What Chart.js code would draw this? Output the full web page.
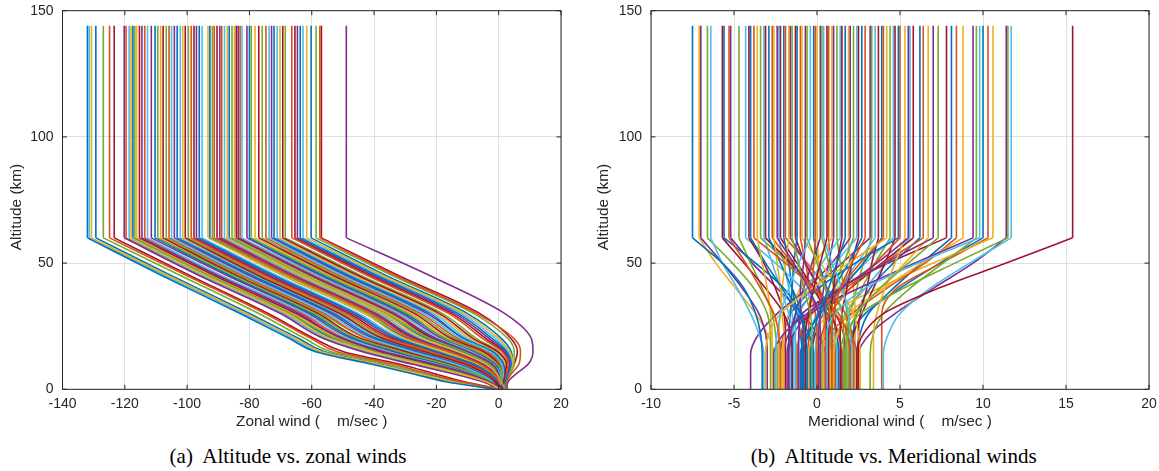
<!DOCTYPE html>
<html><head><meta charset="utf-8">
<script src="https://cdn.jsdelivr.net/npm/chart.js@4.4.1/dist/chart.umd.min.js"></script>
<style>
html,body{margin:0;padding:0;background:#fff}
#page{position:relative;width:1159px;height:471px;overflow:hidden;background:#fff}
canvas{position:absolute;top:0}
.cap{position:absolute;top:445.7px;width:420px;text-align:center;font:21px/21px "Liberation Serif","Times New Roman",serif;color:#000;white-space:pre}
</style></head>
<body><div id="page">
<canvas id="zonal" width="580" height="440" style="left:0"></canvas>
<canvas id="merid" width="579" height="440" style="left:580px"></canvas>
<div class="cap" style="left:78px">(a)  Altitude vs. zonal winds</div>
<div class="cap" style="left:683.7px">(b)  Altitude vs. Meridional winds</div>
</div>
<script>
// ---------------- data ----------------
const altitudeTicks = [0, 50, 100, 150];
const zonalTicks = [-140, -120, -100, -80, -60, -40, -20, 0, 20];
const meridionalTicks = [-10, -5, 0, 5, 10, 15, 20];
const kneeAltitude = 60;      // km, wind is constant above this level
const topAltitude = 144;      // km, top of every profile

// altitude levels (km) at which each zonal profile is read
const zonalAltitudes = [0, 3, 6, 10, 15, 20, 30, 45, 60];
// zonal wind (m/s) at those levels, one row per profile
const zonalProfiles = [
  [-1, -17, -27, -41, -59, -67, -83, -108, -132.0],
  [-0.5, -16, -26, -40, -58, -66, -82, -107, -131.4],
  [0, -15, -25, -39, -57, -65, -81, -106, -130.7],
  [-1, -15, -25, -38, -56, -64, -80, -105, -129.3],
  [0.5, -13, -23, -36, -54, -62, -77, -102, -126.9],
  [0, -12, -22, -34, -52, -60, -75, -100, -124.9],
  [1, -11, -20, -32, -50, -59, -74, -99, -123.4],
  [1, -5, -14, -28, -44, -56, -70, -96, -120.2],
  [0, -5, -13, -27, -43, -55, -69, -95, -119.6],
  [2, -4, -12, -26, -42, -55, -69, -95, -118.6],
  [0.5, -4, -12, -25, -41, -54, -68, -94, -118.0],
  [-0.5, -4, -11, -24, -40, -53, -67, -93, -117.4],
  [1, -3.5, -11, -24, -40, -52, -67, -93, -116.8],
  [2, -3.5, -10, -23, -39, -51, -66, -92, -116.2],
  [0, -3, -10, -22, -38, -50, -65, -91, -115.3],
  [1.5, -3, -9, -21, -37, -50, -64, -90, -114.5],
  [0.5, -3, -9, -20, -36, -49, -63, -89, -113.6],
  [-0.5, -3, -8.5, -20, -36, -48, -62, -89, -112.7],
  [1, -2.5, -8, -19, -34, -47, -61, -87, -111.5],
  [2, -2.5, -7.5, -18, -33, -46, -60, -86, -110.3],
  [0, -2.5, -7, -17, -32, -45, -59, -85, -109.4],
  [1, -2, -7, -16, -31, -44, -58, -84, -108.5],
  [2.5, -2, -6.5, -16, -30, -44, -58, -84, -107.7],
  [0, -2, -6.5, -15, -29, -42, -57, -83, -106.7],
  [1, -2, -6, -15, -28, -42, -56, -82, -105.8],
  [-0.5, -2, -6, -14, -28, -41, -55, -81, -105.0],
  [1.5, -1.5, -5.5, -13, -27, -40, -54, -80, -104.1],
  [0.5, -1.5, -5, -13, -26, -39, -53, -79, -103.2],
  [2, -1.5, -5, -12, -25, -38, -52, -78, -102.2],
  [0, -1, -4.5, -12, -24, -37, -51, -77, -101.4],
  [1, -1, -4, -11, -24, -37, -51, -77, -100.6],
  [2, -1, -4, -10, -23, -36, -50, -76, -99.6],
  [0.5, -1, -3.5, -10, -22, -35, -49, -75, -98.7],
  [1.5, -0.5, -3, -9, -21, -34, -48, -74, -97.8],
  [-0.5, -0.5, -3, -9, -21, -33, -47, -73, -97.0],
  [1, -0.5, -2.5, -8, -20, -32, -46, -72, -96.1],
  [2, 0, -2.5, -7.5, -19, -31, -45, -71, -95.2],
  [0, 0, -2, -7, -18, -30, -43, -69, -93.3],
  [1, 0, -2, -6.5, -17, -29, -43, -69, -92.7],
  [2.5, 0, -2, -6, -17, -28, -42, -68, -91.9],
  [0.5, 0, -1.5, -6, -16, -28, -41, -67, -91.3],
  [1.5, 0, -1.5, -5, -15, -27, -40, -66, -90.4],
  [-0.5, 0.5, -1, -5, -15, -26, -40, -66, -89.5],
  [1, 0.5, -1, -4.5, -14, -26, -39, -65, -88.9],
  [2, 0.5, -1, -4, -13, -25, -38, -64, -88.0],
  [0, 0.5, -0.5, -4, -13, -24, -37, -63, -87.1],
  [1, 0.5, -0.5, -3.5, -12, -23, -37, -63, -86.5],
  [2.5, 0.5, 0, -3, -11, -22, -36, -62, -85.6],
  [0.5, 0.5, 0, -3, -11, -22, -35, -61, -84.8],
  [1.5, 0.5, 0, -2.5, -10, -21, -34, -60, -84.2],
  [-0.5, 0.5, 0, -2, -10, -20, -34, -60, -83.6],
  [1, 1, 0.5, -2, -9, -20, -33, -59, -83.0],
  [2, 1, 0.5, -2, -9, -19, -32, -58, -82.4],
  [0, 1, 0.5, -1, -8, -18, -31, -57, -80.8],
  [1, 1, 0.5, -1, -7, -17, -30, -56, -80.0],
  [2.5, 1, 1, -0.5, -7, -17, -29, -55, -79.4],
  [0.5, 1, 1, 0, -6, -16, -28, -54, -78.2],
  [1.5, 1, 1, 0, -5, -15, -27, -53, -77.0],
  [-0.5, 1, 1.5, 0.5, -4.5, -14, -26, -52, -75.9],
  [1, 1, 1.5, 1, -4, -13, -25, -51, -74.7],
  [2, 1, 1.5, 1, -3, -12, -24, -50, -73.7],
  [0, 1, 1.5, 1.5, -3, -11, -23, -49, -72.9],
  [1.5, 1.5, 2, 1.5, -2, -11, -22, -48, -72.1],
  [2.5, 1.5, 2, 2, -1.5, -10, -21, -47, -71.1],
  [0.5, 1.5, 2, 2, -1, -9, -20, -46, -70.2],
  [1, 1.5, 2, 2.5, -0.5, -8, -19, -45, -69.3],
  [2, 1.5, 2, 2.5, 0, -7, -18, -44, -68.5],
  [0, 1.5, 2.5, 3, 1, -5, -16, -42, -66.4],
  [1.5, 1.5, 2.5, 3.5, 1.5, -4, -15, -41, -65.4],
  [2.5, 1.5, 2.5, 3.5, 2, -3, -14, -40, -64.6],
  [1, 2, 3, 4, 2.5, -2, -13, -39, -63.7],
  [0, 2, 3, 4, 3, -1, -12, -38, -62.8],
  [2, 2, 3, 4.5, 3.5, 0, -11, -37, -61.6],
  [1, 2, 3, 4.5, 4, 1, -10, -36, -60.2],
  [3, 2, 3.5, 5, 5, 3, -8, -34, -58.6],
  [2, 2.5, 4, 6.5, 7, 5, -7, -33, -57.4],
  [0.5, 2, 3.5, 5, 6, 4, -6, -32, -56.9],
  [2.5, 3, 5.5, 9.5, 11, 10.5, 2, -22, -48.9]
];

// altitude levels (km) at which each meridional profile is read
const meridionalAltitudes = [0, 14, 22, 30, 40, 50, 60];
// meridional wind (m/s) at those levels, one row per profile
const meridionalProfiles = [
  [-3.3, -3.3, -3.4, -3.7, -4.4, -5.7, -7.5],
  [-2.6, -2.6, -3.0, -3.7, -4.9, -6.1, -7.1],
  [-3.0, -3.0, -3.1, -3.5, -4.5, -5.7, -7.0],
  [-2.8, -2.8, -2.8, -3.0, -3.8, -5.1, -6.6],
  [-3.2, -3.2, -3.5, -4.0, -4.8, -5.7, -6.4],
  [-1.5, -1.5, -1.6, -2.0, -3.1, -4.4, -5.7],
  [-0.8, -0.8, -0.8, -1.0, -2.0, -3.7, -5.6],
  [-2.2, -2.2, -2.3, -2.6, -3.4, -4.3, -5.3],
  [0.5, 0.5, 0.0, -0.9, -2.4, -3.9, -5.2],
  [-2.4, -2.4, -2.5, -2.7, -3.3, -4.0, -4.7],
  [1.2, 1.2, 1.0, 0.5, -0.9, -2.5, -4.3],
  [-1.9, -1.9, -1.9, -2.0, -2.5, -3.2, -4.1],
  [-0.2, -0.2, -0.5, -1.2, -2.1, -3.1, -4.0],
  [2.0, 2.0, 1.8, 1.3, -0.2, -1.9, -3.8],
  [-2.7, -2.7, -2.7, -2.8, -3.0, -3.3, -3.6],
  [0.8, 0.8, 0.8, 0.6, -0.3, -1.7, -3.4],
  [-1.2, -1.2, -1.4, -1.7, -2.2, -2.7, -3.2],
  [1.7, 1.7, 1.6, 1.1, -0.1, -1.6, -3.1],
  [-0.6, -0.6, -0.7, -0.9, -1.5, -2.2, -2.9],
  [2.4, 2.4, 2.0, 1.1, -0.2, -1.5, -2.7],
  [-2.0, -2.0, -2.0, -2.1, -2.2, -2.4, -2.6],
  [0.2, 0.2, 0.2, 0.1, -0.5, -1.4, -2.4],
  [-1.4, -1.4, -1.4, -1.5, -1.7, -2.0, -2.3],
  [1.0, 1.0, 0.9, 0.6, -0.2, -1.2, -2.2],
  [-0.9, -0.9, -1.0, -1.2, -1.5, -1.7, -2.0],
  [2.2, 2.2, 2.1, 1.7, 0.6, -0.6, -1.9],
  [-2.3, -2.3, -2.3, -2.2, -2.1, -1.9, -1.7],
  [0.6, 0.6, 0.6, 0.5, 0.1, -0.7, -1.6],
  [-0.3, -0.3, -0.3, -0.4, -0.8, -1.1, -1.5],
  [1.5, 1.5, 1.3, 0.8, 0.1, -0.7, -1.3],
  [-1.7, -1.7, -1.7, -1.6, -1.5, -1.4, -1.2],
  [0.0, 0.0, 0.0, -0.1, -0.4, -0.7, -1.0],
  [2.6, 2.6, 2.5, 2.2, 1.3, 0.2, -0.9],
  [-1.1, -1.1, -1.1, -1.0, -1.0, -0.8, -0.7],
  [0.9, 0.9, 0.9, 0.8, 0.5, 0.0, -0.6],
  [-2.5, -2.5, -2.4, -2.2, -1.7, -1.1, -0.4],
  [1.3, 1.3, 1.2, 0.9, 0.6, 0.1, -0.2],
  [-0.5, -0.5, -0.5, -0.5, -0.3, -0.2, -0.1],
  [0.4, 0.4, 0.4, 0.4, 0.2, 0.1, 0.0],
  [-1.8, -1.8, -1.6, -1.3, -0.8, -0.3, 0.2],
  [1.6, 1.6, 1.6, 1.5, 1.1, 0.7, 0.3],
  [2.1, 2.1, 2.0, 1.9, 1.5, 0.9, 0.4],
  [-0.7, -0.7, -0.7, -0.5, -0.2, 0.2, 0.6],
  [1.1, 1.1, 1.1, 1.1, 1.0, 0.8, 0.7],
  [-2.1, -2.1, -2.0, -1.7, -1.0, -0.1, 0.9],
  [0.1, 0.1, 0.1, 0.2, 0.4, 0.7, 1.0],
  [1.9, 1.9, 1.9, 1.8, 1.6, 1.4, 1.2],
  [-1.3, -1.3, -1.3, -1.2, -0.6, 0.3, 1.4],
  [0.7, 0.7, 0.7, 0.8, 1.0, 1.2, 1.5],
  [-0.4, -0.4, -0.2, 0.1, 0.7, 1.2, 1.7],
  [2.3, 2.3, 2.3, 2.3, 2.2, 2.0, 1.9],
  [-4.0, -4.0, -3.5, -2.4, -0.6, 0.9, 2.0],
  [0.3, 0.3, 0.4, 0.5, 1.0, 1.6, 2.2],
  [-1.6, -1.6, -1.5, -1.1, -0.1, 1.1, 2.4],
  [1.4, 1.4, 1.4, 1.5, 1.8, 2.1, 2.5],
  [-0.8, -0.8, -0.5, 0.1, 1.0, 1.9, 2.7],
  [0.9, 0.9, 0.9, 1.0, 1.4, 2.1, 2.9],
  [-2.2, -2.2, -2.0, -1.6, -0.2, 1.5, 3.2],
  [1.8, 1.8, 1.8, 2.0, 2.4, 2.8, 3.3],
  [-0.1, -0.1, 0.0, 0.3, 1.3, 2.4, 3.5],
  [2.5, 2.5, 2.5, 2.6, 3.0, 3.3, 3.7],
  [-1.0, -1.0, -0.6, 0.2, 1.5, 2.8, 3.9],
  [0.5, 0.5, 0.5, 0.7, 1.4, 2.6, 4.0],
  [-3.1, -3.1, -2.9, -2.2, -0.3, 1.9, 4.2],
  [1.6, 1.6, 1.7, 1.9, 2.7, 3.5, 4.4],
  [-0.6, -0.6, -0.4, 0.0, 1.4, 2.9, 4.6],
  [2.0, 2.0, 2.2, 2.7, 3.4, 4.1, 4.7],
  [-1.5, -1.5, -1.5, -1.2, 0.1, 2.3, 4.9],
  [0.2, 0.2, 0.3, 0.8, 2.0, 3.5, 5.0],
  [3.4, 3.4, 3.4, 3.6, 4.1, 4.7, 5.3],
  [-2.6, -2.6, -2.0, -0.6, 1.5, 3.6, 5.5],
  [1.2, 1.2, 1.3, 1.7, 2.9, 4.2, 5.6],
  [-0.3, -0.3, -0.1, 0.4, 2.0, 3.9, 5.8],
  [2.2, 2.2, 2.2, 2.4, 3.2, 4.6, 6.2],
  [-1.2, -1.2, -1.0, -0.3, 1.7, 4.0, 6.4],
  [0.8, 0.8, 1.3, 2.3, 3.8, 5.3, 6.7],
  [-2.0, -2.0, -1.7, -0.9, 1.4, 4.1, 7.0],
  [1.7, 1.7, 1.9, 2.4, 3.8, 5.5, 7.3],
  [-0.9, -0.9, -0.9, -0.5, 1.3, 4.3, 7.8],
  [2.4, 2.4, 2.6, 3.1, 4.6, 6.3, 8.1],
  [0.0, 0.0, 0.7, 2.1, 4.2, 6.5, 8.4],
  [1.0, 1.0, 1.2, 1.9, 4.0, 6.3, 8.8],
  [-1.7, -1.7, -1.4, -0.4, 2.5, 5.9, 9.4],
  [3.2, 3.2, 3.4, 4.0, 5.6, 7.6, 9.6],
  [0.6, 0.6, 0.6, 1.1, 2.9, 6.1, 9.8],
  [1.9, 1.9, 2.1, 2.9, 5.0, 7.4, 10.0],
  [3.9, 3.9, 3.9, 3.9, 4.8, 7.5, 10.3],
  [-0.5, -0.5, -0.2, 0.8, 3.7, 7.0, 10.6],
  [2.5, 2.5, 3.2, 4.7, 7.0, 9.4, 11.4],
  [1.4, 1.4, 1.7, 2.6, 5.2, 8.3, 11.5],
  [4.0, 4.0, 4.3, 5.0, 6.8, 9.2, 11.7],
  [2.4, 2.4, 2.8, 4.0, 7.3, 11.4, 15.4]
];

// ---------------- drawing ----------------
const LINE_COLORS = ['#0072BD', '#D95319', '#EDB120', '#7E2F8E', '#77AC30', '#4DBEEE', '#A2142F'];
const FONT = '"Liberation Sans", Arial, sans-serif';
const AXIS_COLOR = '#262626';
const LINE_WIDTH = 1.6;

function buildDatasets(profiles, alts, stride) {
  const n = profiles.length, out = [];
  for (let i = 0; i < n; i++) {
    const p = profiles[(i * stride) % n];          // plotting order
    const color = LINE_COLORS[i % LINE_COLORS.length];
    const top = p[p.length - 1];
    out.push({
      data: alts.map((a, k) => ({ x: p[k], y: a })),
      borderColor: color, borderWidth: LINE_WIDTH, pointRadius: 0,
      cubicInterpolationMode: 'monotone', fill: false
    });
    out.push({
      data: [{ x: top, y: kneeAltitude }, { x: top, y: topAltitude }],
      borderColor: color, borderWidth: LINE_WIDTH, pointRadius: 0, tension: 0, fill: false
    });
  }
  return out;
}

const framePlugin = {
  id: 'frame',
  afterDatasetsDraw(chart, args, opts) {
    const { ctx, chartArea: a, scales: { x, y } } = chart;
    ctx.save();
    ctx.strokeStyle = AXIS_COLOR;
    ctx.lineWidth = 1;
    ctx.strokeRect(a.left, a.top, a.right - a.left, a.bottom - a.top);
    const L = 4.5;
    ctx.beginPath();
    x.ticks.forEach(t => {
      const px = x.getPixelForValue(t.value);
      ctx.moveTo(px, a.bottom); ctx.lineTo(px, a.bottom - L);
      ctx.moveTo(px, a.top); ctx.lineTo(px, a.top + L);
    });
    y.ticks.forEach(t => {
      const py = y.getPixelForValue(t.value);
      ctx.moveTo(a.left, py); ctx.lineTo(a.left + L, py);
      ctx.moveTo(a.right, py); ctx.lineTo(a.right - L, py);
    });
    ctx.stroke();
    ctx.translate(opts.titleX, opts.titleY);
    ctx.rotate(-Math.PI / 2);
    ctx.font = '15.4px ' + FONT;
    ctx.fillStyle = AXIS_COLOR;
    ctx.textAlign = 'center';
    ctx.textBaseline = 'middle';
    ctx.fillText(opts.text, 0, 0);
    ctx.restore();
  }
};

function makeChart(id, cfg) {
  return new Chart(document.getElementById(id), {
    type: 'line',
    data: { datasets: buildDatasets(cfg.profiles, cfg.alts, cfg.stride) },
    options: {
      responsive: false, animation: false, events: [], indexAxis: 'y',
      layout: { padding: { left: 0, top: 10.7, right: cfg.padRight, bottom: 0 } },
      elements: { point: { radius: 0, hoverRadius: 0 } },
      plugins: {
        legend: { display: false }, tooltip: { enabled: false },
        frame: { titleX: cfg.yTitleX, titleY: 207, text: 'Altitude (km)' }
      },
      scales: {
        x: {
          type: 'linear', position: 'bottom', min: cfg.xTicks[0], max: cfg.xTicks[cfg.xTicks.length - 1],
          afterBuildTicks: s => { s.ticks = cfg.xTicks.map(v => ({ value: v })); },
          afterFit: s => { s.height = 50.7; s.paddingLeft = 0; s.paddingRight = 0; },
          grid: { color: '#dfdfdf', drawTicks: false, lineWidth: 1 },
          border: { display: false },
          ticks: { padding: 6.5, color: AXIS_COLOR, font: { family: FONT, size: 14 }, autoSkip: false, maxRotation: 0 },
          title: { display: true, text: cfg.xTitle, color: AXIS_COLOR, font: { family: FONT, size: 15.4 }, padding: { top: 0, bottom: 9 } }
        },
        y: {
          type: 'linear', position: 'left', min: 0, max: 150,
          afterBuildTicks: s => { s.ticks = altitudeTicks.map(v => ({ value: v })); },
          afterFit: s => { s.width = cfg.yWidth; s.paddingTop = 0; s.paddingBottom = 0; },
          grid: { color: '#dfdfdf', drawTicks: false, lineWidth: 1 },
          border: { display: false },
          ticks: { padding: 9, color: AXIS_COLOR, font: { family: FONT, size: 14 }, autoSkip: false }
        }
      }
    },
    plugins: [framePlugin]
  });
}

makeChart('zonal', {
  profiles: zonalProfiles, alts: zonalAltitudes, stride: 5,
  xTicks: zonalTicks, xTitle: 'Zonal wind (    m/sec )',
  yWidth: 62.5, padRight: 19, yTitleX: 16.7
});
makeChart('merid', {
  profiles: meridionalProfiles, alts: meridionalAltitudes, stride: 7,
  xTicks: meridionalTicks, xTitle: 'Meridional wind (    m/sec )',
  yWidth: 71, padRight: 10, yTitleX: 23.8
});
</script>
</body></html>
